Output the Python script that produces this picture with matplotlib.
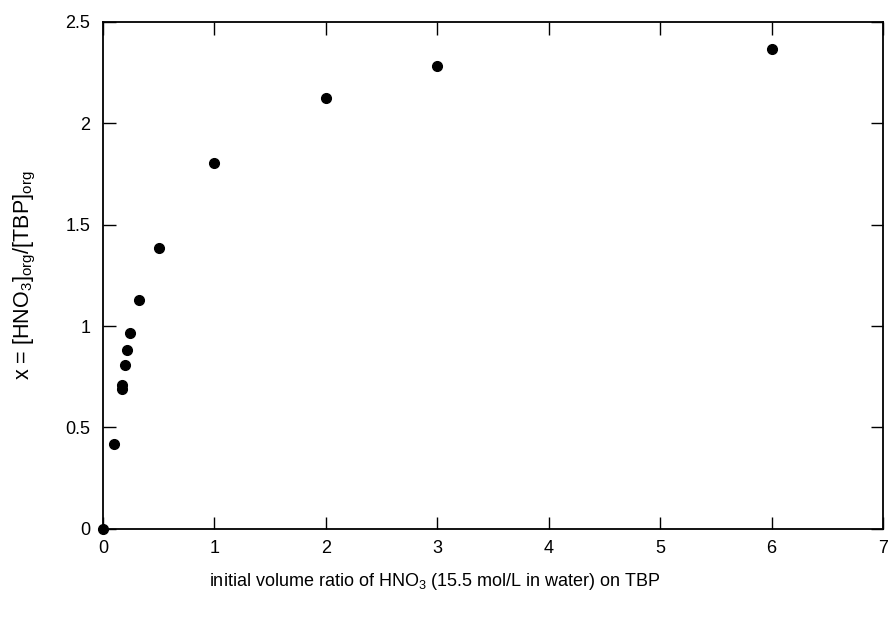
import matplotlib.pyplot as plt

plt.rcParams['font.family'] = ['Liberation Sans', 'DejaVu Sans']
plt.rcParams['mathtext.fontset'] = 'custom'
plt.rcParams['mathtext.rm'] = 'Liberation Sans'
plt.rcParams['mathtext.it'] = 'Liberation Sans'
plt.rcParams['font.size'] = 13

# data
volume_ratio = [0.0, 0.1, 0.168, 0.168, 0.195, 0.22, 0.245, 0.326, 0.5, 1.0, 2.0, 3.0, 6.0]
x_loading = [0.0, 0.42, 0.708, 0.688, 0.807, 0.88, 0.967, 1.129, 1.385, 1.805, 2.127, 2.285, 2.368]

xticks = [0, 1, 2, 3, 4, 5, 6, 7]
yticks = [0, 0.5, 1, 1.5, 2, 2.5]
ytick_labels = ['0', '0.5', '1', '1.5', '2', '2.5']

fig = plt.figure(figsize=(8.93, 6.19), dpi=100)
ax = fig.add_axes([0.1153, 0.1459, 0.8735, 0.8186])

ax.plot(volume_ratio, x_loading, 'o', color='black', ms=7, clip_on=False, zorder=5)

ax.set_xlim(0, 7)
ax.set_ylim(0, 2.5)
ax.set_xticks(xticks)
ax.set_yticks(yticks)
ax.set_yticklabels(ytick_labels)
ax.tick_params(direction='in', length=9, width=1, top=True, right=True, labelsize=13)
ax.tick_params(axis='x', pad=8)
ax.tick_params(axis='y', pad=9)
for s in ax.spines.values():
    s.set_linewidth(1.3)

ax.set_xlabel('initial volume ratio of HNO$_3$ (15.5 mol/L in water) on TBP', fontsize=13, va='center')
ax.xaxis.set_label_coords(0.426, -0.105)
ax.set_ylabel('x = [HNO$_3$]$_{\\mathrm{org}}$/[TBP]$_{\\mathrm{org}}$', fontsize=15.5, va='center')
ax.yaxis.set_label_coords(-0.10, 0.5)

fig.savefig('out.png', dpi=100)
